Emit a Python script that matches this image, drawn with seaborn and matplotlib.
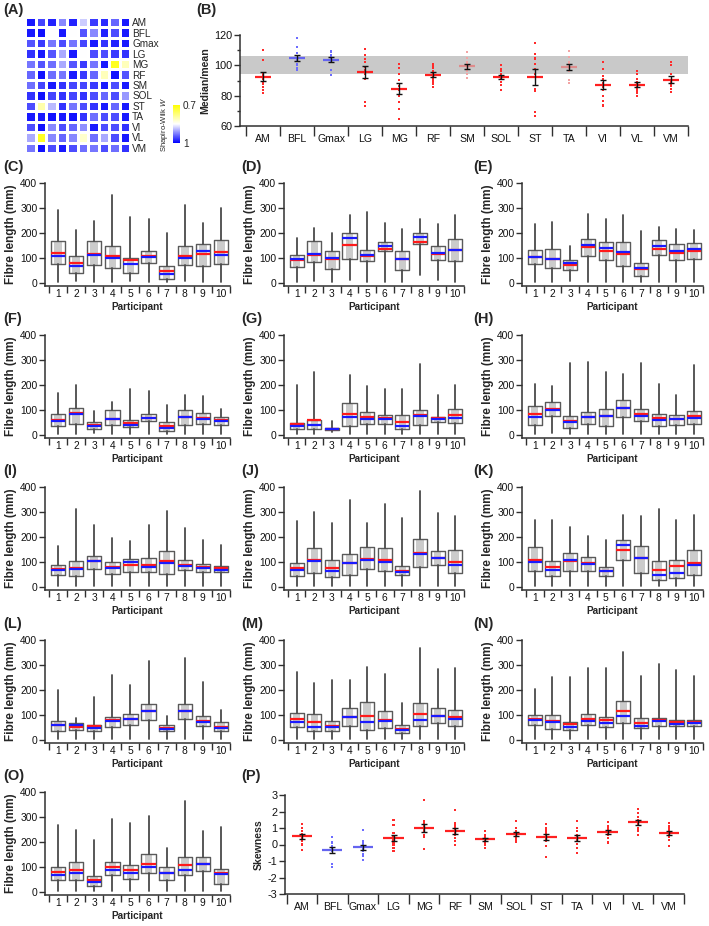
import numpy as np
import pandas as pd
import matplotlib
matplotlib.use("Agg")
import matplotlib.pyplot as plt
import seaborn as sns
from matplotlib.colors import LinearSegmentedColormap

muscles = ['AM', 'BFL', 'Gmax', 'LG', 'MG', 'RF', 'SM', 'SOL', 'ST', 'TA', 'VI', 'VL', 'VM']
participants = [str(i) for i in range(1, 11)]

# ---------------- Panel A: Shapiro-Wilk W (rows = muscles, cols = participants)
W_AM = [0.985, 0.96, 0.98, 0.92, 0.98, 0.88, 0.965, 0.975, 0.94, 0.985]
W_BFL = [0.985, 0.99, 0.85, 0.985, 0.85, 0.95, 0.92, 0.98, 0.955, 0.985]
W_Gmax = [0.95, 0.965, 0.93, 0.955, 0.93, 0.96, 0.985, 0.97, 0.98, 0.985]
W_LG = [0.97, 0.985, 0.95, 0.90, 0.985, 0.85, 0.955, 0.955, 0.965, 0.97]
W_MG = [0.93, 0.95, 0.935, 0.90, 0.95, 0.965, 0.93, 0.985, 0.72, 0.81]
W_RF = [0.94, 0.99, 0.935, 0.93, 0.985, 0.965, 0.94, 0.81, 0.99, 0.95]
W_SM = [0.935, 0.96, 0.985, 0.97, 0.96, 0.96, 0.965, 0.985, 0.955, 0.985]
W_SOL = [0.97, 0.99, 0.96, 0.97, 0.96, 0.97, 0.955, 0.94, 0.955, 0.91]
W_ST = [0.955, 0.80, 0.89, 0.97, 0.93, 0.955, 0.97, 0.985, 0.94, 0.985]
W_TA = [0.985, 0.985, 0.99, 0.985, 0.99, 0.97, 0.935, 0.955, 0.955, 0.985]
W_VI = [0.955, 0.99, 0.92, 0.955, 0.94, 0.915, 0.985, 0.955, 0.955, 0.97]
W_VL = [0.90, 0.72, 0.92, 0.94, 0.92, 0.82, 0.935, 0.90, 0.955, 0.985]
W_VM = [0.93, 0.99, 0.955, 0.985, 0.955, 0.935, 0.93, 0.955, 0.935, 0.97]

# ---------------- Panel B: median/mean (%) per participant
R_AM = [110, 103.5, 95, 94, 93, 91, 88, 85.5, 84, 81.5]
R_BFL = [118, 112, 108, 105, 104, 103, 101, 100, 98, 97]
R_Gmax = [109.5, 108.5, 107, 106, 105, 104.5, 104, 103, 97, 93.5]
R_LG = [110.5, 107, 104, 102, 99, 97, 94, 91, 76, 73]
R_MG = [101, 98, 94, 90.5, 86.6, 84, 80, 76, 71, 64.8]
R_RF = [101, 99.5, 98, 96, 94, 93, 92, 90, 88, 85.5]
R_SM = [109, 105, 102, 101, 99.5, 98.5, 97, 96, 94, 91.5]
R_SOL = [100, 97.5, 96, 94, 93, 92, 91, 89, 87, 84]
R_ST = [114.5, 107.5, 104.5, 101, 97.5, 94, 84.5, 83, 69, 66.5]
R_TA = [109.5, 105.5, 102, 101, 100, 99, 98, 96.5, 90.5, 88.5]
R_VI = [102, 97.5, 93, 91, 88, 86, 84, 80, 76.5, 73.5]
R_VL = [96, 94.5, 91, 89, 87.5, 86, 84.5, 83, 81.5, 80]
R_VM = [102, 100, 94, 90, 90, 89, 88, 86.5, 84.5, 82.5]

# ---------------- Panel P: skewness per participant
S_AM = [1.25, 1.0, 0.8, 0.65, 0.5, 0.45, 0.35, 0.2, 0.0, -0.35]
S_BFL = [0.43, 0.17, 0.1, -0.1, -0.25, -0.35, -0.35, -0.4, -1.2, -1.35]
S_Gmax = [0.88, 0.2, 0.1, 0.0, -0.1, -0.25, -0.4, -0.6, -0.7, -0.93]
S_LG = [1.48, 1.18, 0.7, 0.5, 0.4, 0.3, 0.1, 0.0, -0.2, -0.37]
S_MG = [2.7, 1.45, 1.3, 1.15, 1.0, 0.9, 0.75, 0.6, 0.45, -0.25]
S_RF = [2.1, 1.3, 1.15, 1.0, 0.85, 0.7, 0.55, 0.4, 0.2, -0.05]
S_SM = [0.82, 0.6, 0.5, 0.4, 0.35, 0.3, 0.2, 0.1, 0.0, -0.23]
S_SOL = [1.42, 1.0, 0.8, 0.7, 0.6, 0.5, 0.45, 0.35, 0.25, 0.15]
S_ST = [1.24, 1.0, 0.85, 0.7, 0.6, 0.5, 0.35, 0.2, -0.1, -0.74]
S_TA = [1.42, 1.0, 0.8, 0.6, 0.45, 0.3, 0.2, 0.05, -0.2, -0.52]
S_VI = [1.38, 1.1, 1.0, 0.9, 0.8, 0.75, 0.65, 0.55, 0.4, 0.12]
S_VL = [2.17, 1.9, 1.65, 1.5, 1.4, 1.3, 1.2, 1.0, 0.85, 0.6]
S_VM = [1.32, 1.1, 1.0, 0.9, 0.8, 0.7, 0.6, 0.45, 0.25, -0.09]

# ---------------- Panels C-O: fibre length summaries (mm) per participant
AM_q1 = [76, 40, 73, 61, 41, 80, 17, 73, 67, 77]
AM_q3 = [167, 108, 167, 148, 101, 128, 67, 149, 157, 173]
AM_mean = [119, 81, 117, 108, 93, 108, 47, 109, 117, 125]
AM_med = [107, 69, 111, 101, 77, 104, 37, 101, 129, 113]
AM_max = [293, 211, 247, 351, 264, 257, 200, 311, 240, 300]
AM_min = [4, 6, 5, 3, 8, 5, 2, 6, 4, 5]

BFL_q1 = [64, 84, 57, 97, 87, 128, 53, 157, 91, 88]
BFL_q3 = [111, 167, 128, 201, 131, 163, 127, 201, 149, 177]
BFL_mean = [92, 113, 97, 151, 109, 137, 95, 165, 117, 131]
BFL_med = [95, 117, 99, 180, 112, 147, 97, 184, 121, 133]
BFL_max = [180, 220, 200, 270, 283, 241, 215, 257, 237, 270]
BFL_min = [5, 8, 5, 10, 5, 5, 5, 30, 10, 5]

Gmax_q1 = [77, 61, 51, 107, 92, 69, 29, 113, 91, 97]
Gmax_q3 = [131, 137, 93, 177, 163, 163, 80, 173, 157, 160]
Gmax_mean = [103, 95, 73, 145, 128, 115, 55, 137, 121, 128]
Gmax_med = [105, 97, 80, 151, 139, 125, 59, 148, 127, 135]
Gmax_max = [235, 244, 147, 277, 257, 273, 208, 224, 217, 211]
Gmax_min = [5, 5, 8, 5, 5, 5, 5, 5, 5, 5]

LG_q1 = [36, 45, 26, 40, 32, 58, 16, 40, 45, 40]
LG_q3 = [85, 109, 52, 101, 62, 85, 52, 102, 89, 74]
LG_mean = [62, 89, 42, 66, 50, 69, 37, 74, 69, 62]
LG_med = [58, 83, 38, 65, 40, 69, 28, 74, 65, 56]
LG_max = [168, 201, 95, 132, 185, 175, 119, 162, 155, 103]
LG_min = [5, 5, 8, 5, 5, 5, 3, 5, 5, 5]

MG_q1 = [24, 23, 21, 36, 45, 46, 26, 40, 53, 48]
MG_q3 = [49, 62, 29, 128, 93, 82, 82, 101, 74, 106]
MG_mean = [46, 60, 26, 83, 73, 69, 53, 79, 69, 79]
MG_med = [37, 40, 25, 72, 65, 66, 38, 75, 64, 69]
MG_max = [201, 252, 56, 241, 195, 185, 185, 285, 159, 201]
MG_min = [5, 5, 12, 5, 5, 5, 5, 5, 5, 5]

RF_q1 = [40, 78, 29, 46, 38, 72, 56, 38, 42, 46]
RF_q3 = [115, 132, 75, 93, 106, 142, 105, 86, 79, 95]
RF_mean = [85, 105, 58, 73, 75, 109, 83, 68, 64, 75]
RF_med = [74, 101, 53, 72, 75, 109, 77, 61, 64, 69]
RF_max = [204, 195, 287, 294, 252, 244, 287, 204, 162, 281]
RF_min = [5, 8, 5, 5, 5, 5, 5, 5, 5, 5]

SM_q1 = [48, 43, 74, 53, 61, 60, 53, 68, 60, 61]
SM_q3 = [88, 104, 126, 100, 113, 117, 146, 110, 93, 84]
SM_mean = [73, 77, 106, 81, 90, 88, 104, 90, 80, 77]
SM_med = [70, 74, 104, 77, 100, 82, 96, 85, 77, 70]
SM_max = [163, 312, 250, 197, 186, 250, 303, 237, 190, 167]
SM_min = [5, 5, 5, 5, 5, 5, 5, 5, 5, 5]

SOL_q1 = [45, 55, 42, 48, 72, 65, 47, 82, 88, 58]
SOL_q3 = [97, 155, 108, 133, 162, 157, 83, 192, 146, 148]
SOL_mean = [77, 108, 78, 96, 114, 110, 65, 135, 118, 102]
SOL_med = [68, 103, 65, 95, 110, 101, 60, 132, 115, 90]
SOL_max = [265, 300, 255, 350, 258, 333, 275, 385, 295, 285]
SOL_min = [5, 5, 5, 5, 5, 5, 5, 5, 5, 5]

ST_q1 = [65, 45, 65, 65, 45, 110, 55, 28, 35, 48]
ST_q3 = [162, 103, 138, 120, 80, 188, 165, 105, 110, 147]
ST_mean = [110, 80, 103, 95, 65, 147, 115, 70, 85, 98]
ST_med = [102, 70, 107, 92, 63, 170, 115, 50, 57, 88]
ST_max = [270, 268, 240, 205, 188, 288, 285, 312, 270, 288]
ST_min = [5, 5, 5, 5, 5, 5, 5, 5, 5, 5]

TA_q1 = [38, 42, 36, 53, 62, 82, 36, 86, 56, 36]
TA_q3 = [78, 69, 62, 93, 105, 144, 60, 146, 96, 73]
TA_mean = [62, 54, 56, 81, 85, 115, 49, 118, 76, 52]
TA_med = [60, 62, 49, 78, 83, 115, 46, 117, 74, 50]
TA_max = [199, 89, 171, 261, 219, 317, 98, 328, 232, 122]
TA_min = [5, 5, 5, 5, 5, 5, 5, 5, 5, 5]

VI_q1 = [53, 37, 36, 58, 42, 49, 29, 58, 69, 57]
VI_q3 = [107, 105, 76, 129, 153, 116, 62, 149, 129, 120]
VI_mean = [85, 72, 58, 93, 96, 80, 45, 106, 98, 92]
VI_med = [72, 53, 54, 94, 73, 77, 42, 81, 98, 84]
VI_max = [273, 229, 240, 242, 292, 266, 149, 368, 285, 290]
VI_min = [5, 5, 5, 5, 5, 5, 5, 5, 5, 5]

VL_q1 = [59, 46, 42, 62, 53, 68, 49, 57, 57, 57]
VL_q3 = [102, 102, 73, 105, 91, 158, 89, 89, 82, 81]
VL_mean = [86, 78, 65, 85, 81, 117, 68, 80, 72, 72]
VL_med = [79, 73, 52, 78, 68, 98, 55, 76, 66, 68]
VL_max = [206, 251, 251, 289, 289, 353, 256, 305, 280, 255]
VL_min = [5, 5, 5, 5, 5, 5, 5, 5, 5, 5]

VM_q1 = [50, 48, 24, 69, 53, 78, 50, 68, 86, 33]
VM_q3 = [100, 120, 64, 121, 110, 154, 101, 140, 140, 93]
VM_mean = [80, 88, 48, 101, 88, 113, 77, 109, 113, 77]
VM_med = [69, 78, 40, 90, 77, 102, 77, 90, 113, 74]
VM_max = [270, 247, 210, 294, 276, 303, 177, 363, 246, 260]
VM_min = [5, 5, 5, 5, 5, 5, 5, 5, 5, 5]

# ======================================================================
sns.set_style("ticks")
plt.rcParams['font.family'] = ['Liberation Sans', 'DejaVu Sans']
plt.rcParams['axes.unicode_minus'] = False
plt.rcParams['mathtext.fontset'] = 'custom'
plt.rcParams['mathtext.it'] = 'Liberation Sans:italic'
plt.rcParams['mathtext.rm'] = 'Liberation Sans'

W, H = 709, 926
fig = plt.figure(figsize=(W / 100, H / 100), dpi=100)
AXC = '#303030'


def add_ax(l, t, r, b):
    return fig.add_axes([l / W, 1 - b / H, (r - l) / W, (b - t) / H])


def style(ax):
    for s in ['top', 'right']:
        ax.spines[s].set_visible(False)
    for s in ['left', 'bottom']:
        ax.spines[s].set_linewidth(1.1)
        ax.spines[s].set_color(AXC)
    ax.tick_params(axis='y', which='both', direction='out', color=AXC, width=1.0)
    ax.tick_params(axis='y', which='major', length=4)
    ax.tick_params(axis='y', which='minor', length=2.5)


def cat_x(ax, positions, labels, xlim, ticklen, pad, size):
    ax.set_xlim(*xlim)
    ax.set_xticks(positions)
    ax.set_xticklabels(labels)
    ax.set_xticks(np.arange(positions[0] - 0.5, positions[-1] + 1.0, 1.0), minor=True)
    ax.tick_params(axis='x', which='major', length=0, pad=pad, labelsize=size, labelcolor='#111')
    ax.tick_params(axis='x', which='minor', length=ticklen, width=1.0, color=AXC, direction='out')


def plabel(x, y, s):
    fig.text(x / W, 1 - y / H, s, fontsize=10.5, fontweight='bold', ha='left', va='top')


# ---------------- Panel A
hm = pd.DataFrame([W_AM, W_BFL, W_Gmax, W_LG, W_MG, W_RF, W_SM, W_SOL, W_ST,
                   W_TA, W_VI, W_VL, W_VM], index=muscles, columns=participants)
ax_a = add_ax(25, 17, 130, 153)
cax = add_ax(173, 105, 180, 143)
cmap = LinearSegmentedColormap.from_list('sw', ['#ffff00', '#ffffff', '#0000ff'])
sns.heatmap(hm, ax=ax_a, cmap=cmap, vmin=0.7, vmax=1.0, linewidths=0.8,
            linecolor='white', cbar_ax=cax, xticklabels=False, yticklabels=True)
ax_a.yaxis.tick_right()
ax_a.tick_params(axis='y', length=0, labelsize=7.2, pad=1.5, labelrotation=0)
ax_a.set_xlabel('')
ax_a.set_ylabel('')
cbar = ax_a.collections[0].colorbar
cbar.set_ticks([0.7, 1.0], labels=['0.7', '1'])
cbar.outline.set_visible(False)
cbar.ax.invert_yaxis()
cbar.ax.tick_params(length=0, labelsize=7.2, pad=2)
cbar.ax.yaxis.set_label_position('left')
cbar.ax.set_ylabel('Shapiro-Wilk $\\it{W}$', fontsize=5.5, labelpad=2)
plabel(3, 3, '(A)')


# ---------------- dot panels (B and P)
dot_col_b = {m: '#ff2a2a' for m in muscles}
line_col_b = {m: '#ff2020' for m in muscles}
for m in ['BFL', 'Gmax']:
    dot_col_b[m] = '#6c6cff'
    line_col_b[m] = '#6464f0'
for m in ['SM', 'TA']:
    dot_col_b[m] = '#f2a4a4'
    line_col_b[m] = '#de8c8c'
dot_col_p = {m: '#ff2a2a' for m in muscles}
line_col_p = {m: '#ff2020' for m in muscles}
for m in ['BFL', 'Gmax']:
    dot_col_p[m] = '#6c6cff'
    line_col_p[m] = '#6464f0'


def dot_panel(ax, series, dcols, lcols, halfw, ylabel):
    df = pd.DataFrame({'muscle': np.repeat(muscles, 10),
                       'value': np.concatenate(series)})
    sns.stripplot(data=df, x='muscle', y='value', hue='muscle', order=muscles,
                  hue_order=muscles, palette=dcols, jitter=False, size=1.5,
                  marker='s', linewidth=0, legend=False, ax=ax, zorder=3)
    g = df.groupby('muscle', sort=False)['value']
    means = g.mean().reindex(muscles).values
    sems = g.sem().reindex(muscles).values
    xs = np.arange(len(muscles))
    ax.hlines(means, xs - halfw, xs + halfw, colors=[lcols[m] for m in muscles],
              lw=1.6, zorder=4)
    ax.errorbar(xs, means, yerr=sems, fmt='none', ecolor='#111111',
                elinewidth=1.0, capsize=2.2, capthick=1.0, zorder=5)
    ax.set_xlabel('')
    ax.set_ylabel(ylabel, fontsize=7.6, fontweight='bold', labelpad=3)


ax_b = add_ax(240, 35, 688, 126)
ax_b.axhspan(94, 106, color='#c9c9c9', lw=0, zorder=0)
dot_panel(ax_b, [R_AM, R_BFL, R_Gmax, R_LG, R_MG, R_RF, R_SM, R_SOL, R_ST,
                 R_TA, R_VI, R_VL, R_VM], dot_col_b, line_col_b, 0.23, 'Median/mean')
style(ax_b)
ax_b.set_ylim(60, 120)
ax_b.set_yticks([60, 80, 100, 120])
ax_b.set_yticks([70, 90, 110], minor=True)
ax_b.tick_params(axis='y', labelsize=7.8, pad=1.5, labelcolor='#111')
cat_x(ax_b, list(range(13)), muscles, (-0.68, 12.5), 7, 6, 7.6)
plabel(196, 3, '(B)')

ax_p = add_ax(285, 795, 684, 894)
dot_panel(ax_p, [S_AM, S_BFL, S_Gmax, S_LG, S_MG, S_RF, S_SM, S_SOL, S_ST,
                 S_TA, S_VI, S_VL, S_VM], dot_col_p, line_col_p, 0.33, 'Skewness')
style(ax_p)
ax_p.set_ylim(-3, 3)
ax_p.set_yticks([-3, -2, -1, 0, 1, 2, 3])
ax_p.tick_params(axis='y', labelsize=7.8, pad=1.5, labelcolor='#111')
cat_x(ax_p, list(range(13)), muscles, (-0.55, 12.5), 7, 6, 7.6)
plabel(241, 769, '(P)')

# ---------------- box panels C-O
box_sets = [
    ('AM', AM_q1, AM_q3, AM_med, AM_mean, AM_min, AM_max),
    ('BFL', BFL_q1, BFL_q3, BFL_med, BFL_mean, BFL_min, BFL_max),
    ('Gmax', Gmax_q1, Gmax_q3, Gmax_med, Gmax_mean, Gmax_min, Gmax_max),
    ('LG', LG_q1, LG_q3, LG_med, LG_mean, LG_min, LG_max),
    ('MG', MG_q1, MG_q3, MG_med, MG_mean, MG_min, MG_max),
    ('RF', RF_q1, RF_q3, RF_med, RF_mean, RF_min, RF_max),
    ('SM', SM_q1, SM_q3, SM_med, SM_mean, SM_min, SM_max),
    ('SOL', SOL_q1, SOL_q3, SOL_med, SOL_mean, SOL_min, SOL_max),
    ('ST', ST_q1, ST_q3, ST_med, ST_mean, ST_min, ST_max),
    ('TA', TA_q1, TA_q3, TA_med, TA_mean, TA_min, TA_max),
    ('VI', VI_q1, VI_q3, VI_med, VI_mean, VI_min, VI_max),
    ('VL', VL_q1, VL_q3, VL_med, VL_mean, VL_min, VL_max),
    ('VM', VM_q1, VM_q3, VM_med, VM_mean, VM_min, VM_max),
]
panel_letters = list('CDEFGHIJKLMNO')
col_x = [(45, 230, 3), (284, 464, 241), (522, 703, 473)]
row_top = [183, 335, 487, 640, 792]
row_lab = [160, 312, 464, 617, 769]
pos = np.arange(1, 11)

for i, (name, q1, q3, med, mean, lo, hi) in enumerate(box_sets):
    r, c = divmod(i, 3)
    l, rr, lx = col_x[c]
    t = row_top[r]
    ax = add_ax(l, t, rr, t + 103)
    q1a, q3a = np.array(q1, float), np.array(q3, float)
    ax.bar(pos, q3a - q1a, bottom=q1a, width=0.42, color='#cbcbcb', lw=0, zorder=1)
    stats = [dict(med=med[k], q1=q1[k], q3=q3[k], whislo=lo[k], whishi=hi[k],
                  mean=mean[k], fliers=[]) for k in range(10)]
    bp = ax.bxp(stats, positions=pos, widths=0.8, showmeans=True, meanline=True,
                showcaps=False, showfliers=False, patch_artist=False,
                boxprops=dict(color='#5a5a5a', lw=1.0),
                whiskerprops=dict(color='#4a4a4a', lw=1.3),
                medianprops=dict(color='#1a1aff', lw=1.6),
                meanprops=dict(color='#ff1a1a', lw=1.6, linestyle='-'),
                manage_ticks=False)
    for ln in bp['medians']:
        ln.set_zorder(4)
    for ln in bp['means']:
        ln.set_zorder(3.5)
    style(ax)
    ax.set_ylim(-12, 400)
    ax.set_yticks([0, 100, 200, 300, 400])
    ax.tick_params(axis='y', labelsize=7.4, pad=1.5, labelcolor='#111')
    cat_x(ax, list(pos), participants, (0.28, 10.5), 5, 2, 7.4)
    ax.set_ylabel('Fibre length (mm)', fontsize=8.5, fontweight='bold', labelpad=2)
    ax.set_xlabel('Participant', fontsize=7.2, fontweight='bold', labelpad=2)
    plabel(lx, row_lab[r], '(%s)' % panel_letters[i])

fig.savefig('out.png', dpi=100)
